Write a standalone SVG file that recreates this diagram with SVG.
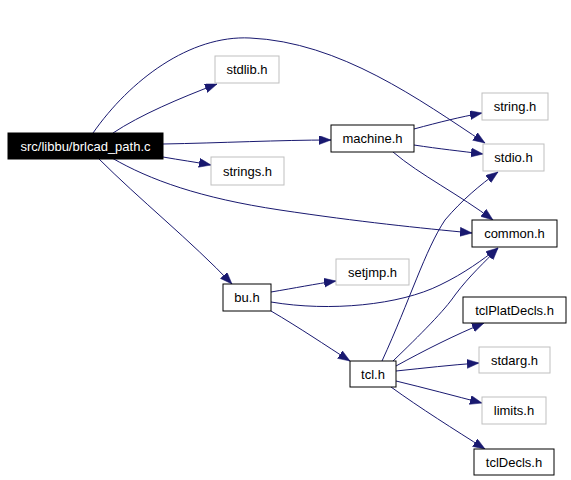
<svg xmlns="http://www.w3.org/2000/svg" width="571" height="480" viewBox="0 0 571 480">
<defs>
<style>
.n rect{fill:#fff;stroke:#000;stroke-width:1}
.g rect{stroke:#bfbfbf}
.n text{font-family:"Liberation Sans",Arial,sans-serif;font-size:13px;text-anchor:middle;fill:#000}
.root rect{fill:#000}
.root text{fill:#fff}
#edges path{fill:none;stroke:#191970;stroke-width:1;marker-end:url(#ah)}
</style>
<marker id="ah" markerUnits="userSpaceOnUse" markerWidth="13" markerHeight="10" refX="12" refY="4.5" orient="auto">
<path d="M0,0 L12,4.5 L0,9 z" fill="#191970" stroke="#191970" stroke-width="0.5"/>
</marker>
</defs>
<rect width="571" height="480" fill="#fff"/>
<g id="edges">
<path d="M93,133 C130,80 190,35 250,38 C340,42 420,100 485,143"/>
<path d="M113,133 C140,115 180,98 217,84"/>
<path d="M163,144 C220,143 280,140 331,140"/>
<path d="M163,157 C180,160 195,162 211,165"/>
<path d="M112,158 C150,180 200,198 280,210 C360,222 420,228 472,233"/>
<path d="M98,158 C140,200 190,240 232,284"/>
<path d="M414,129 C440,122 460,117 482,113"/>
<path d="M414,145 C440,149 460,151 483,154"/>
<path d="M393,152 C420,175 460,195 493,220"/>
<path d="M271,292 C295,288 315,284 336,281"/>
<path d="M271,302 C330,312 400,305 440,285 C465,273 482,260 498,248"/>
<path d="M271,311 C300,328 325,345 350,361"/>
<path d="M382,361 C410,300 425,250 445,220 C462,200 480,185 498,172"/>
<path d="M393,361 C420,335 445,310 455,295 C470,275 485,262 498,248"/>
<path d="M396,366 C425,350 455,335 484,323"/>
<path d="M396,371 C425,368 450,365 479,363"/>
<path d="M396,381 C425,388 455,396 482,403"/>
<path d="M391,387 C420,408 455,430 485,449"/>
</g>
<g id="brlcad_path" class="n root"><rect x="8" y="133" width="155" height="26"/><text x="85.5" y="151">src/libbu/brlcad_path.c</text></g>
<g id="stdlib" class="n g"><rect x="215" y="56" width="64" height="27"/><text x="247" y="74">stdlib.h</text></g>
<g id="strings" class="n g"><rect x="211" y="157" width="73" height="28"/><text x="247.5" y="175.5">strings.h</text></g>
<g id="machine" class="n"><rect x="331" y="125" width="83" height="27"/><text x="372.5" y="143">machine.h</text></g>
<g id="string" class="n g"><rect x="482" y="93" width="66" height="27"/><text x="515" y="111">string.h</text></g>
<g id="stdio" class="n g"><rect x="483" y="144" width="61" height="27"/><text x="513.5" y="162">stdio.h</text></g>
<g id="common" class="n"><rect x="472" y="220" width="85" height="27"/><text x="514.5" y="238">common.h</text></g>
<g id="bu" class="n"><rect x="223" y="284" width="48" height="27"/><text x="247" y="302">bu.h</text></g>
<g id="setjmp" class="n g"><rect x="336" y="259" width="73" height="26"/><text x="372.5" y="276.5">setjmp.h</text></g>
<g id="tclPlatDecls" class="n"><rect x="463" y="297" width="103" height="26"/><text x="514.5" y="314.5">tclPlatDecls.h</text></g>
<g id="tcl" class="n"><rect x="350" y="361" width="46" height="26"/><text x="373" y="378.5">tcl.h</text></g>
<g id="stdarg" class="n g"><rect x="479" y="347" width="71" height="26"/><text x="514.5" y="364.5">stdarg.h</text></g>
<g id="limits" class="n g"><rect x="482" y="397" width="64" height="27"/><text x="514" y="415">limits.h</text></g>
<g id="tclDecls" class="n"><rect x="474" y="449" width="80" height="26"/><text x="514" y="466.5">tclDecls.h</text></g>
</svg>
